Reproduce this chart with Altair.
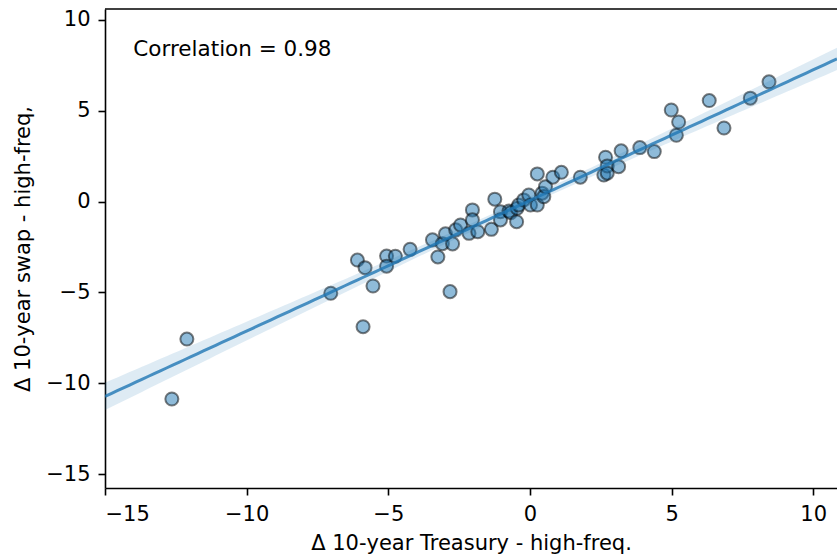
import altair as alt
import numpy as np
import pandas as pd

# High-frequency changes around announcements (basis points)
treasury = [
    -12.64, -12.11, -7.03, -6.09, -5.82, -5.89, -5.54, -5.06, -5.06, -4.75,
    -4.23, -3.44, -3.25, -3.09, -2.98, -2.82, -2.73, -2.62, -2.45, -2.15,
    -2.03, -2.03, -1.84, -1.24, -1.36, -1.04, -1.04, -0.74, -0.68, -0.47,
    -0.45, -0.40, -0.22, -0.04, 0.02, 0.26, 0.26, 0.43, 0.49, 0.55,
    0.81, 1.11, 1.78, 2.61, 2.67, 2.73, 2.73, 3.13, 3.22, 3.88,
    4.39, 4.99, 5.17, 5.25, 6.33, 6.85, 7.78, 8.44,
]
swap = [
    -10.87, -7.57, -5.05, -3.22, -3.64, -6.89, -4.65, -3.00, -3.56, -3.01,
    -2.63, -2.11, -3.05, -2.32, -1.78, -4.96, -2.33, -1.56, -1.29, -1.75,
    -0.46, -1.01, -1.66, 0.13, -1.53, -0.56, -1.01, -0.52, -0.61, -1.11,
    -0.37, -0.19, 0.09, 0.36, -0.19, -0.19, 1.52, 0.46, 0.27, 0.82,
    1.34, 1.61, 1.34, 1.46, 2.44, 1.96, 1.56, 1.92, 2.79, 2.97,
    2.75, 5.04, 3.65, 4.38, 5.56, 4.05, 5.69, 6.59,
]
CORRELATION = 0.98

# Fitted regression line (slope, intercept) of swap on Treasury changes
FIT_SLOPE = 0.719
FIT_INTERCEPT = 0.06

X_DOMAIN = [-15, 10.84]
Y_DOMAIN = [-15.77, 10.6]
TICKS = [-15, -10, -5, 0, 5, 10]
BLUE = "#1f77b4"
FONT = "DejaVu Sans"

points = pd.DataFrame({"treasury": treasury, "swap": swap})

# 95% confidence band around the fitted line
xa = np.array(treasury)
ya = np.array(swap)
n = len(xa)
resid = ya - (FIT_INTERCEPT + FIT_SLOPE * xa)
s = np.sqrt(np.sum(resid ** 2) / (n - 2))
xbar = xa.mean()
sxx = np.sum((xa - xbar) ** 2)
grid = np.linspace(X_DOMAIN[0], X_DOMAIN[1], 120)
fit = FIT_INTERCEPT + FIT_SLOPE * grid
se = s * np.sqrt(1.0 / n + (grid - xbar) ** 2 / sxx)
t_crit = 2.003
band = pd.DataFrame({"treasury": grid, "fit": fit,
                     "lo": fit - t_crit * se, "hi": fit + t_crit * se})

Y_TITLE = "Δ 10-year swap - high-freq,"
x_enc = alt.X("treasury:Q", title="Δ 10-year Treasury - high-freq.",
              scale=alt.Scale(domain=X_DOMAIN, nice=False, zero=False),
              axis=alt.Axis(values=TICKS, format="d", titlePadding=8))
y_scale = alt.Scale(domain=Y_DOMAIN, nice=False, zero=False)
y_axis = alt.Axis(values=TICKS, format="d", titlePadding=12)

scatter = alt.Chart(points).mark_circle(
    size=170, fill=BLUE, fillOpacity=0.5,
    stroke="black", strokeOpacity=0.5, strokeWidth=2, clip=True,
).encode(
    x=x_enc,
    y=alt.Y("swap:Q", title=Y_TITLE, scale=y_scale, axis=y_axis),
)

ci = alt.Chart(band).mark_area(color=BLUE, opacity=0.15, clip=True).encode(
    x=x_enc,
    y=alt.Y("lo:Q", scale=y_scale, axis=y_axis, title=Y_TITLE),
    y2="hi:Q",
)

line = alt.Chart(band).mark_line(color=BLUE, strokeWidth=3, opacity=0.8, clip=True).encode(
    x=x_enc,
    y=alt.Y("fit:Q", scale=y_scale, axis=y_axis, title=Y_TITLE),
)

label = alt.Chart(pd.DataFrame({"tx": [-14.0], "ty": [8.0],
                                "text": [f"Correlation = {CORRELATION:.2f}"]})).mark_text(
    align="left", baseline="alphabetic", fontSize=21.5, font=FONT, color="black",
).encode(
    x=alt.X("tx:Q", scale=alt.Scale(domain=X_DOMAIN, nice=False, zero=False)),
    y=alt.Y("ty:Q", scale=y_scale),
    text="text:N",
)

top_spine = alt.Chart(pd.DataFrame({"k": [0]})).mark_rule(
    color="black", strokeWidth=1.6,
).encode(y=alt.value(0), x=alt.value(0), x2=alt.value(732))

chart = alt.layer(scatter, ci, line, label, top_spine).properties(
    width=732, height=479,
    autosize=alt.AutoSizeParams(type="none"),
    padding={"left": 105, "top": 9, "right": 0, "bottom": 71},
).configure_view(
    strokeWidth=0,
).configure_axis(
    grid=False,
    domainColor="black", domainWidth=1.6,
    tickColor="black", tickWidth=1.6, tickSize=7,
    labelFont=FONT, labelFontSize=21, labelColor="black", labelPadding=8,
    titleFont=FONT, titleFontSize=21, titleColor="black", titleFontWeight="normal",
)

chart.save("out.html", embed_options={"renderer": "svg", "actions": False})
